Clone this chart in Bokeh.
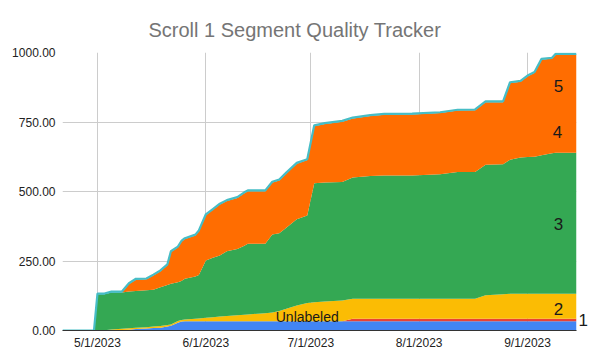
import pandas as pd
from bokeh.plotting import figure
from bokeh.models import (ColumnDataSource, FixedTicker, NumeralTickFormatter,
                          CustomJSTickFormatter, Range1d, Label, LinearAxis)
from bokeh.embed import file_html
from bokeh.resources import INLINE

dates = ["2023-04-21", "2023-04-30", "2023-05-01", "2023-05-03", "2023-05-05",
         "2023-05-08", "2023-05-10", "2023-05-12", "2023-05-15", "2023-05-17",
         "2023-05-19", "2023-05-21", "2023-05-22", "2023-05-24", "2023-05-25",
         "2023-05-26", "2023-05-29", "2023-05-30", "2023-06-01", "2023-06-03",
         "2023-06-05", "2023-06-07", "2023-06-10", "2023-06-12", "2023-06-13",
         "2023-06-18", "2023-06-20", "2023-06-22", "2023-06-24", "2023-06-27",
         "2023-06-30", "2023-07-02", "2023-07-05", "2023-07-10", "2023-07-13",
         "2023-07-18", "2023-07-22", "2023-07-30", "2023-08-07", "2023-08-12",
         "2023-08-17", "2023-08-20", "2023-08-25", "2023-08-27", "2023-08-30",
         "2023-09-01", "2023-09-03", "2023-09-05", "2023-09-08", "2023-09-09",
         "2023-09-15"]

s1 = [0, 0, 0, 0, 1, 2, 3, 5, 7, 9, 10, 14, 17, 28, 32, 33, 33, 33, 33, 33,
      33, 33, 33, 33, 33, 33, 33, 33, 33, 33, 33, 33, 33, 33, 33, 33, 33, 33,
      33, 33, 33, 33, 33, 33, 33, 33, 33, 33, 33, 33, 33]
s_unlabeled = [0, 0, 0, 0, 0, 0, 0, 0, 0, 0, 0, 0, 0, 0, 0, 0, 0, 0, 0, 0,
               0, 0, 0, 0, 0, 0, 0, 0, 0, 0, 0, 0, 0, 0, 9, 9, 9, 9, 9, 9,
               9, 9, 9, 9, 9, 9, 9, 9, 9, 9, 9]
s2 = [0, 0, 0, 1, 3, 4, 5, 5, 5, 5, 6, 6, 5, 6, 6, 7, 9, 10, 13, 15, 17, 19,
      22, 24, 25, 29, 32, 37, 45, 57, 66, 69, 71, 75, 72, 72, 72, 72, 72, 72,
      72, 85, 88, 90, 90, 90, 90, 90, 90, 90, 90]
s3 = [0, 0, 130, 129, 133, 131, 132, 132, 133, 133, 140, 144, 146, 140, 140,
      146, 152, 157, 206, 214, 220, 233, 238, 248, 254, 250, 280, 280, 292,
      310, 315, 428, 428, 426, 436, 442, 444, 444, 448, 456, 456, 469, 468,
      482, 490, 492, 493, 498, 506, 507, 507]
s4 = [0, 0, 0, 0, 0, 0, 27, 41, 39, 51, 57, 71, 114, 125, 141, 143, 148, 157,
      163, 172, 183, 181, 184, 189, 189, 189, 187, 190, 195, 200, 199, 205,
      211, 217, 213, 216, 218, 219, 220, 221, 222, 225, 223, 276, 273, 290,
      302, 344, 340, 353, 353]
s5 = [0, 0, 3, 3, 3, 3, 3, 3, 3, 3, 3, 3, 3, 3, 3, 3, 3, 3, 3, 3, 3, 3, 3, 3,
      3, 3, 3, 3, 3, 3, 3, 3, 3, 3, 3, 3, 3, 3, 3, 3, 3, 3, 3, 3, 3, 3, 3, 3,
      3, 3, 3]

series_names = ["1", "Unlabeled", "2", "3", "4", "5"]
colors = ["#4285F4", "#EA4335", "#FBBC04", "#34A853", "#FF6D01", "#46BDC6"]
y_ticks = [0, 250, 500, 750, 1000]
month_ticks = ["2023-05-01", "2023-06-01", "2023-07-01", "2023-08-01", "2023-09-01"]

# label anchors (series label values)
label_dates = ["2023-09-15", "2023-06-30", "2023-09-15", "2023-09-15", "2023-09-15", "2023-09-15"]
label_vals = [36, 47, 77, 383, 714, 879]

x = pd.to_datetime(dates)
keys = ["s1", "su", "s2", "s3", "s4", "s5"]
data = dict(date=x, s1=s1, su=s_unlabeled, s2=s2, s3=s3, s4=s4, s5=s5)
total = [a + b + c + d + e + f for a, b, c, d, e, f in zip(s1, s_unlabeled, s2, s3, s4, s5)]
data["total"] = total
src = ColumnDataSource(data)

FONT = "Liberation Sans"

p = figure(width=590, height=359, x_axis_type="datetime", output_backend="svg",
           toolbar_location=None, min_border_left=62, min_border_right=13,
           min_border_top=52, min_border_bottom=29,
           title="Scroll 1 Segment Quality Tracker")
p.x_range = Range1d(x[0], x[-1])
p.y_range = Range1d(0, 1000)

p.varea_stack(stackers=keys, x="date", color=colors, source=src)
p.line(x="date", y="total", source=src, color="#46BDC6", line_width=2.2)

p.title.text_font = FONT
p.title.text_font_size = "20px"
p.title.text_font_style = "normal"
p.title.text_color = "#757575"
p.title.align = "left"
p.title.offset = 86
p.title.standoff = 24

p.outline_line_color = None
p.background_fill_color = "white"
p.border_fill_color = "white"

ms_ticks = [pd.Timestamp(t).value / 1e6 for t in month_ticks]
p.xaxis.ticker = FixedTicker(ticks=ms_ticks)
p.xaxis.formatter = CustomJSTickFormatter(code="""
const d = new Date(tick);
return (d.getUTCMonth()+1) + '/' + d.getUTCDate() + '/' + d.getUTCFullYear();
""")
p.yaxis.ticker = FixedTicker(ticks=y_ticks)
p.yaxis.formatter = NumeralTickFormatter(format="0.00")

for ax in (p.xaxis, p.yaxis):
    ax.major_tick_line_color = None
    ax.minor_tick_line_color = None
    ax.major_tick_out = 0
    ax.major_tick_in = 0
    ax.major_label_text_font = FONT
    ax.major_label_text_font_size = "12px"
    ax.major_label_text_color = "#222222"
p.yaxis.axis_line_color = None
p.xaxis.axis_line_color = "#333333"
p.xaxis.axis_line_width = 1
p.yaxis.major_label_standoff = 7
p.xaxis.major_label_standoff = 5

p.xgrid.ticker = FixedTicker(ticks=ms_ticks)
p.ygrid.ticker = FixedTicker(ticks=y_ticks)
p.grid.grid_line_color = "#cccccc"
p.grid.grid_line_width = 1

# series "1" label sits outside the plot area: render it as a right-side axis label
right_ax = LinearAxis(ticker=FixedTicker(ticks=[label_vals[0]]),
                      formatter=CustomJSTickFormatter(code="return '%s';" % series_names[0]),
                      axis_line_color=None, major_tick_line_color=None,
                      minor_tick_line_color=None, major_tick_out=0, major_tick_in=0,
                      major_label_standoff=2, major_label_text_font=FONT,
                      major_label_text_font_size="17px", major_label_text_color="#1a1a1a")
p.add_layout(right_ax, "right")

x_offsets = [5, 0, -18, -18, -19, -18]
font_sizes = ["17px", "14px", "17px", "17px", "17px", "17px"]
for name, ld, lv, xo, fs in list(zip(series_names, label_dates, label_vals, x_offsets, font_sizes))[1:]:
    p.add_layout(Label(x=pd.Timestamp(ld).value / 1e6, y=lv, text=name, x_offset=xo,
                       text_align="center", text_baseline="middle", level="overlay",
                       text_font=FONT, text_font_size=fs, text_color="#1a1a1a"))

open("out.html", "w").write(file_html(p, INLINE))
